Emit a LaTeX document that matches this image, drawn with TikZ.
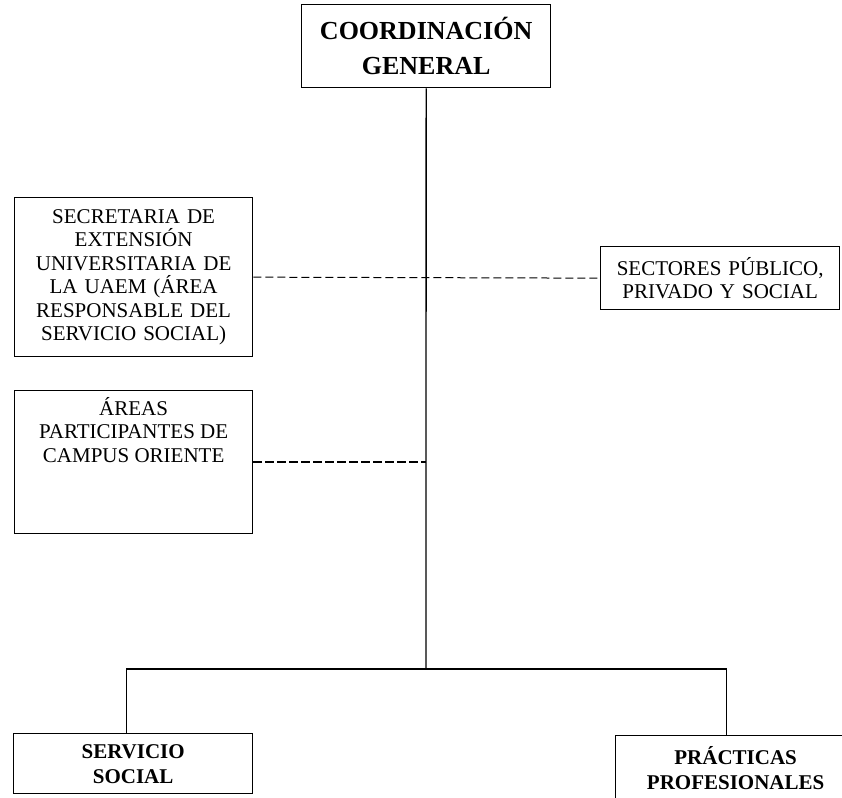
\documentclass[tikz,border=0pt]{standalone}
\usepackage{fontspec}
\setmainfont{Liberation Serif}
\usepackage{tikz}
\usetikzlibrary{positioning}

\tikzset{
  orgbox/.style={draw=black, line width=1.3pt, fill=white, inner sep=0pt,
                 anchor=north west, align=center},
  orgtext/.style={font=\fontsize{21}{23.5}\selectfont},
  headtext/.style={font=\fontsize{26}{35}\selectfont\bfseries},
  unittext/.style={font=\fontsize{21}{25}\selectfont\bfseries},
  trunk/.style={line width=1.3pt},
  link/.style={line width=1pt, dash pattern=on 8pt off 4pt},
  thicklink/.style={line width=2pt, dash pattern=on 9pt off 3pt}
}

\begin{document}
\begin{tikzpicture}[x=1pt, y=-1pt]
        \useasboundingbox (0,0) rectangle (842,797);
        \fill[white] (0,0) rectangle (842,797);

        % top level
        \node[orgbox, headtext, text width=249pt, minimum height=83pt]
          (coord) at (301,4) {COORDINACIÓN\\GENERAL};

        % side boxes
        \node[orgbox, orgtext, text width=238pt, minimum height=159pt]
          (secretaria) at (14,197) {SECRETARIA DE\\EXTENSIÓN\\UNIVERSITARIA DE\\LA UAEM (ÁREA\\RESPONSABLE DEL\\SERVICIO SOCIAL)};
        \node[orgbox, orgtext, text width=239pt, minimum height=63pt]
          (sectores) at (600,246) {SECTORES PÚBLICO,\\PRIVADO Y SOCIAL};
        \node[orgbox, minimum width=238pt, minimum height=143pt]
          (areas) at (14,390) {};
        \node[orgtext, align=center, inner sep=0pt, anchor=north,
              below=7pt of areas.north] (areasText)
          {ÁREAS\\PARTICIPANTES DE\\CAMPUS ORIENTE};

        % bottom level
        \node[orgbox, unittext, text width=239pt, minimum height=60pt]
          (servicio) at (13,733) {SERVICIO\\SOCIAL};
        \node[orgbox, unittext, text width=240pt, minimum height=65pt]
          (practicas) at (615,735) {PRÁCTICAS\\PROFESIONALES};

        % connectors
        \coordinate (junction) at (426,669);
        \draw[trunk] (coord.south) -- (junction);
        \draw[trunk] ([xshift=-6.5pt]servicio.north) |- (junction)
                     -| ([xshift=-9pt]practicas.north);
        \draw[link] (secretaria.east) -- (sectores.west);
        \draw[thicklink] (areas.east) -- (areas.east -| coord.south);
      \end{tikzpicture}
\end{document}
